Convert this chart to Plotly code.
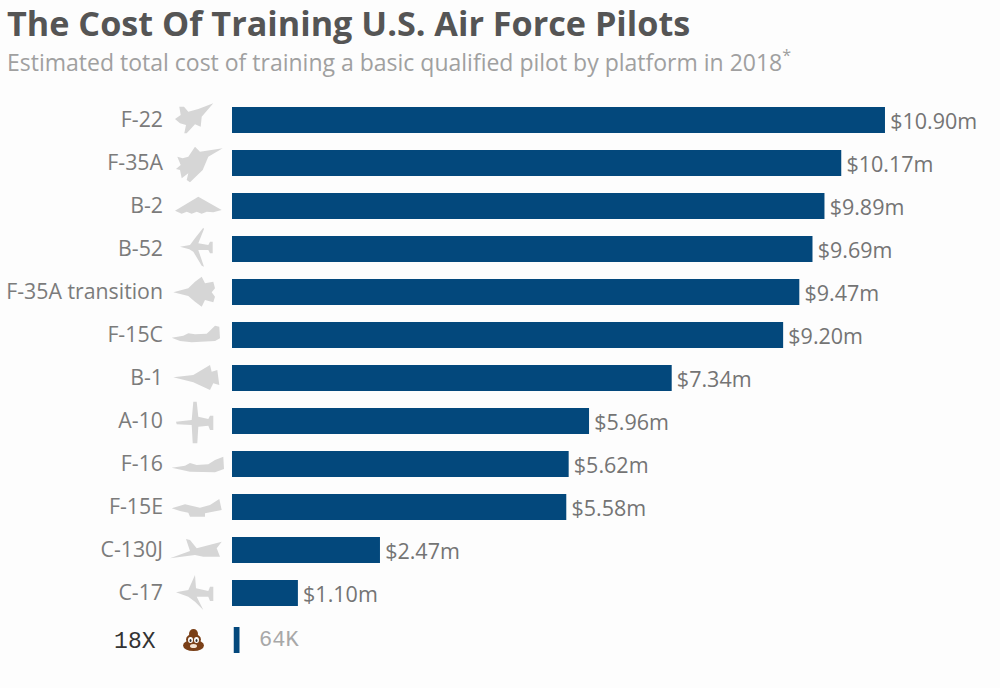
import plotly.graph_objects as go

W = 1000
H = 688

platforms = ["F-22", "F-35A", "B-2", "B-52", "F-35A transition", "F-15C",
             "B-1", "A-10", "F-16", "F-15E", "C-130J", "C-17"]
cost_m = [10.90, 10.17, 9.89, 9.69, 9.47, 9.20, 7.34, 5.96, 5.62, 5.58, 2.47, 1.10]

extra_label = ["18X"]
extra_cost_m = [0.064]
extra_text = "64K"

BLUE = "#03487c"
GREY = "#7b7b7b"
ICON = "#d6d6d6"
BG = "#fdfdfd"

# silhouettes traced by hand, (x, y) in 3x crop coords
icons_top = [
    [(160, 25), (125, 65), (122, 95), (105, 88), (80, 115), (73, 115), (78, 90), (60, 85),
     (45, 72), (62, 60), (58, 35), (72, 35), (85, 50), (115, 42)],
    [(188, 160), (145, 185), (128, 225), (90, 262), (80, 255), (85, 235), (65, 250), (60, 225),
     (48, 222), (62, 210), (52, 185), (68, 190), (85, 185), (105, 155), (120, 170)],
    [(115, 305), (185, 345), (160, 352), (140, 350), (125, 356), (110, 350), (95, 356),
     (80, 350), (65, 356), (45, 347)],
    [(60, 455), (90, 450), (105, 430), (130, 398), (132, 402), (115, 445), (145, 450), (150, 440),
     (158, 440), (158, 475), (150, 475), (145, 465), (115, 465), (132, 515), (125, 512),
     (100, 470), (88, 463)],
    [(40, 592), (85, 580), (105, 560), (125, 545), (135, 565), (160, 560), (165, 580), (155, 592),
     (165, 605), (160, 622), (135, 615), (125, 635), (105, 620), (85, 603)],
    [(35, 728), (70, 722), (85, 715), (105, 718), (140, 716), (152, 705), (165, 692), (178, 695),
     (180, 730), (165, 738), (95, 742), (60, 738)],
]
icons_bottom = [
    [(40, 97), (100, 90), (150, 60), (155, 80), (172, 75), (178, 120), (160, 115), (150, 135), (100, 112)],
    [(48, 230), (95, 225), (100, 170), (110, 170), (115, 215), (145, 222), (150, 212), (160, 212),
     (160, 255), (150, 255), (145, 242), (115, 245), (112, 295), (98, 295), (95, 240), (50, 238)],
    [(35, 368), (75, 362), (90, 354), (110, 360), (145, 358), (165, 345), (190, 335), (192, 372),
     (165, 382), (90, 380)],
    [(35, 490), (75, 478), (120, 488), (150, 480), (178, 462), (185, 495), (135, 505), (135, 515),
     (90, 515), (85, 503), (60, 498)],
    [(30, 640), (90, 618), (78, 582), (90, 585), (110, 610), (185, 590), (170, 610), (180, 635),
     (130, 635), (105, 630)],
    [(48, 742), (85, 735), (105, 690), (108, 730), (145, 738), (150, 725), (160, 725), (160, 768),
     (150, 768), (145, 755), (110, 755), (130, 795), (105, 770), (85, 755)],
]


def px(x):
    return x / W


def py(y):
    return 1 - y / H


def icon_path(points, ox, oy):
    parts = [f"{px(ox + x / 3):.4f},{py(oy + y / 3):.4f}" for x, y in points]
    return "M" + " L".join(parts) + " Z"


def blob(x0, y0, x1, y1, color):
    return dict(type="circle", xref="paper", yref="paper", x0=px(x0), x1=px(x1), y0=py(y0), y1=py(y1),
                fillcolor=color, line_width=0, layer="above")


shapes = []
for pts in icons_top:
    shapes.append(dict(type="path", xref="paper", yref="paper", path=icon_path(pts, 160, 95),
                       fillcolor=ICON, line_width=0))
for pts in icons_bottom:
    shapes.append(dict(type="path", xref="paper", yref="paper", path=icon_path(pts, 160, 345),
                       fillcolor=ICON, line_width=0))

# the little pile in the last row
POO = "#7a4018"
shapes += [
    blob(183, 640, 204, 651, POO),
    blob(186, 634, 201, 645, POO),
    blob(189, 629, 198, 639, POO),
    blob(188, 637, 193, 643, "white"),
    blob(194, 637, 199, 643, "white"),
    blob(189.5, 639, 191.5, 642, "#333333"),
    blob(195.5, 639, 197.5, 642, "#333333"),
    blob(190, 644, 197, 648, "#f3e3d3"),
]

fig = go.Figure()

fig.add_trace(go.Bar(
    x=cost_m, y=platforms, orientation="h",
    marker_color=BLUE, marker_line_width=0,
    text=[f"\u200a${v:.2f}m" for v in cost_m], textposition="outside", constraintext="none",
    textfont=dict(family="Open Sans", size=21.5, color="#747474"),
    cliponaxis=False, hoverinfo="skip", showlegend=False,
))

fig.add_trace(go.Bar(
    x=extra_cost_m, y=extra_label, orientation="h",
    xaxis="x2", yaxis="y2",
    marker_color=BLUE, marker_line_width=0,
    hoverinfo="skip", showlegend=False,
))

fig.update_layout(
    width=W, height=H,
    margin=dict(l=0, r=0, t=0, b=0),
    paper_bgcolor=BG, plot_bgcolor=BG,
    bargap=0.395,
    shapes=shapes,
    xaxis=dict(domain=[0.232, 1.0], range=[0, 12.82], visible=False),
    yaxis=dict(domain=[py(614.5), py(98.5)], autorange="reversed", showline=False, showgrid=False,
               ticks="", ticklabelstandoff=68,
               tickfont=dict(family="Open Sans", size=21.3, color=GREY)),
    xaxis2=dict(domain=[0.2335, 1.0], range=[0, 8.176], visible=False, anchor="y2"),
    yaxis2=dict(domain=[py(661.5), py(618.5)], anchor="x2", showline=False, showgrid=False,
                ticks="", ticklabelstandoff=77,
                tickfont=dict(family="Liberation Mono", size=23, color="#333333")),
    title=dict(text="<b>The Cost Of Training U.S. Air Force Pilots</b>",
               x=0.007, xanchor="left", xref="paper", y=py(24), yanchor="middle",
               font=dict(family="Open Sans", size=34.2, color="#555555")),
    annotations=[
        dict(text="Estimated total cost of training a basic qualified pilot by platform in 2018<sup>*</sup>",
             xref="paper", yref="paper", x=0.005, y=py(61), xanchor="left", yanchor="middle",
             showarrow=False, font=dict(family="Open Sans", size=23, color="#a0a0a0")),
        dict(text=extra_text, xref="x2", yref="y2", x=extra_cost_m[0], y=extra_label[0],
             xanchor="left", yanchor="middle", xshift=17, showarrow=False,
             font=dict(family="Liberation Mono", size=22, color="#a8a8a8")),
    ],
)

# browser default body margin would push the chart 8px in
fig.write_html("out.html", config={"displayModeBar": False},
               post_script="document.body.style.margin='0';")
